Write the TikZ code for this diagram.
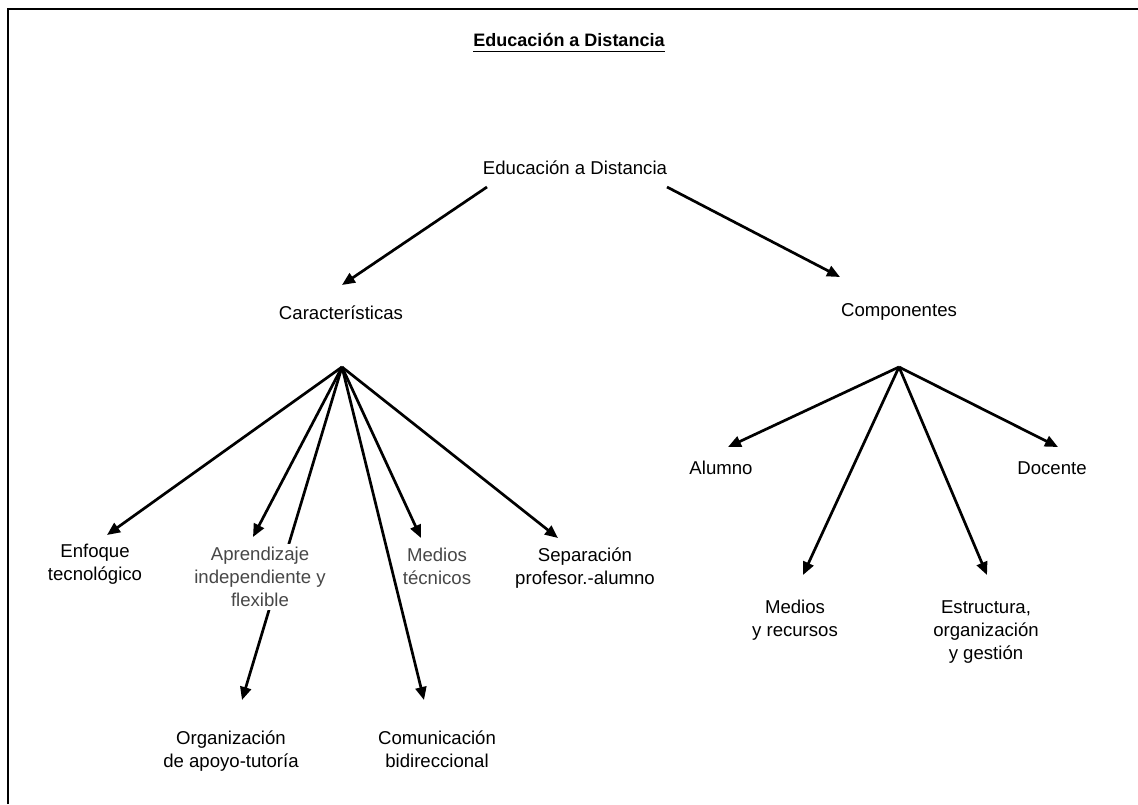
\documentclass[tikz,border=0pt]{standalone}
\usepackage{fontspec}
\setmainfont{Liberation Sans}
\usetikzlibrary{arrows.meta}
\begin{document}
\begin{tikzpicture}[x=1pt,y=-1pt,
  lbl/.style={font=\fontsize{18.6}{23}\selectfont, align=center, inner sep=0pt},
  soft/.style={lbl, text=black!72},
  arr/.style={line width=2.7pt, -{Triangle[length=13pt,width=11pt]}},
  frame/.style={line width=2pt}]
\useasboundingbox (0,0) rectangle (1138,804);

% open frame: top and left edges
\draw[frame] (7.5,804) -- (7.5,8.5) -- (1138,8.5);

% heading
\node[lbl, font=\bfseries\fontsize{18}{22}\selectfont, anchor=base] (title) at (569,46) {Educación a Distancia};
\draw[line width=1.8pt] ([yshift=-5.5pt]title.base west) -- ([yshift=-5.5pt]title.base east);

% top levels
\node[lbl, anchor=base] (root) at (575,174.5) {Educación a Distancia};
\node[lbl, anchor=base] (car) at (341,319.5) {Características};
\node[lbl, anchor=base] (comp) at (899,316.5) {Componentes};

% branching points
\coordinate (hubC) at (342,367);
\coordinate (hubK) at (899,367);
\coordinate (rootL) at (487,187);
\coordinate (rootR) at (667,187);
\coordinate (tCar) at (342,285);
\coordinate (tComp) at (840,277);

% arrow tips
\coordinate (tEnf) at (107,535);
\coordinate (tApr) at (253,537);
\coordinate (tOrg) at (242,700);
\coordinate (tCom) at (424,700);
\coordinate (tMed) at (421,538);
\coordinate (tSep) at (558,538);
\coordinate (tAlu) at (728,447);
\coordinate (tDoc) at (1058,447);
\coordinate (tMyR) at (803,575);
\coordinate (tEst) at (987,575);

% characteristics
\node[lbl] (enf) at (95,564.5) {Enfoque\\tecnológico};
\node[soft] (med) at (437,566) {Medios\\técnicos};
\node[lbl] (sep) at (585,568) {Separación\\profesor.-alumno};
\node[lbl] (org) at (231,751) {Organización\\de apoyo-tutoría};
\node[lbl] (com) at (437,749) {Comunicación\\bidireccional};

% components
\node[lbl, anchor=base] (alu) at (721,474.5) {Alumno};
\node[lbl, anchor=base] (doc) at (1052,474.5) {Docente};
\node[lbl] (myr) at (795,620) {Medios\\y recursos};
\node[lbl] (est) at (986,632) {Estructura,\\organización\\y gestión};

% this connector runs behind the label that masks it
\draw[arr] (hubC) -- (tOrg);
\node[soft, fill=white, inner sep=3pt] (apr) at (260,577) {Aprendizaje\\independiente y\\flexible};

% connectors
\draw[arr] (rootL) -- (tCar);
\draw[arr] (rootR) -- (tComp);
\draw[arr] (hubC) -- (tEnf);
\draw[arr] (hubC) -- (tApr);
\draw[arr] (hubC) -- (tCom);
\draw[arr] (hubC) -- (tMed);
\draw[arr] (hubC) -- (tSep);
\draw[arr] (hubK) -- (tAlu);
\draw[arr] (hubK) -- (tDoc);
\draw[arr] (hubK) -- (tMyR);
\draw[arr] (hubK) -- (tEst);
\end{tikzpicture}
\end{document}
